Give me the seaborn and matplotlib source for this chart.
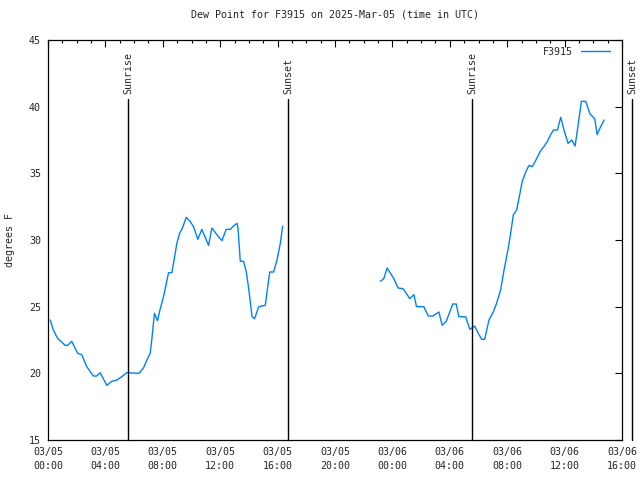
import numpy as np
import pandas as pd
import matplotlib
matplotlib.use("Agg")
import matplotlib.pyplot as plt
import matplotlib.dates as mdates
from matplotlib.lines import Line2D
import seaborn as sns

# ---- data (hours after 2025-03-05 00:00 UTC, dew point in F) ----
seg1_hours = [0.16, 0.37, 0.68, 0.9, 1.19, 1.37, 1.65, 2.07, 2.35, 2.7, 3.16, 3.4, 3.63,
              4.1, 4.44, 4.8, 5.14, 5.49, 6.35, 6.65, 6.89, 7.12, 7.23, 7.42, 7.63, 7.8,
              8.05, 8.2, 8.4, 8.63, 8.8, 8.98, 9.17, 9.37, 9.63, 9.9, 10.14, 10.44, 10.72,
              11.19, 11.42, 11.77, 12.12, 12.42, 12.7, 12.93, 13.17, 13.24, 13.4, 13.63,
              13.82, 13.98, 14.22, 14.4, 14.68, 15.14, 15.45, 15.72, 15.96, 16.19, 16.35]
seg1_dew = [24.0, 23.25, 22.6, 22.4, 22.1, 22.1, 22.4, 21.5, 21.4, 20.5, 19.8, 19.8, 20.05,
            19.1, 19.4, 19.5, 19.75, 20.05, 20.0, 20.4, 21.0, 21.5, 22.5, 24.5, 23.95, 24.75,
            25.75, 26.5, 27.55, 27.55, 28.6, 29.75, 30.5, 30.9, 31.7, 31.4, 31.0, 30.05, 30.8,
            29.6, 30.9, 30.4, 29.95, 30.8, 30.8, 31.05, 31.25, 30.9, 28.4, 28.4,
            27.6, 26.4, 24.25, 24.1, 25.0, 25.1, 27.6, 27.6, 28.5, 29.75, 31.05]

seg2_hours = [23.17, 23.4, 23.63, 23.87, 24.1, 24.4, 24.73, 25.03, 25.2, 25.5, 25.68, 26.19,
              26.5, 26.82, 27.24, 27.47, 27.75, 28.21, 28.45, 28.63, 29.1, 29.4, 29.73,
              29.96, 30.22, 30.43, 30.73, 31.03, 31.26, 31.54, 31.78, 32.05, 32.24, 32.43,
              32.66, 32.89, 33.05, 33.29, 33.52, 33.75, 34.05, 34.33, 34.56, 34.8, 35.03,
              35.22, 35.5, 35.73, 35.96, 36.24, 36.5, 36.73, 36.96, 37.17, 37.47, 37.77,
              38.1, 38.27, 38.4, 38.75]
seg2_dew = [26.9, 27.1, 27.9, 27.5, 27.1, 26.4, 26.35, 25.9, 25.6, 25.9, 25.0, 25.0,
            24.3, 24.3, 24.6, 23.6, 23.9, 25.2, 25.2, 24.25, 24.25, 23.3, 23.55,
            23.05, 22.55, 22.55, 24.0, 24.6, 25.25, 26.25, 27.75, 29.25, 30.5, 31.9,
            32.25, 33.5, 34.4, 35.1, 35.6, 35.5, 36.1, 36.7, 37.0, 37.4, 37.9,
            38.25, 38.25, 39.2, 38.25, 37.25, 37.5, 37.05, 38.75, 40.4, 40.4, 39.45,
            39.1, 37.9, 38.25, 39.0]

event_hours = [5.58, 16.73, 29.56, 40.7]
event_labels = ["Sunrise", "Sunset", "Sunrise", "Sunset"]

station = "F3915"
title = "Dew Point for F3915 on 2025-Mar-05 (time in UTC)"
ylabel = "degrees F"
base = pd.Timestamp("2025-03-05 00:00")

df = pd.DataFrame({
    "time": base + pd.to_timedelta(seg1_hours + seg2_hours, unit="h"),
    "dew": seg1_dew + seg2_dew,
    "segment": [1] * len(seg1_hours) + [2] * len(seg2_hours),
    "station": station,
})

sns.set_style("white")
plt.rcParams["font.family"] = ["DejaVu Sans Mono", "DejaVu Sans"]
plt.rcParams["font.size"] = 7

color = "#0080ff"
fig = plt.figure(figsize=(6.4, 4.8), dpi=100)
ax = fig.add_axes([48 / 640, 40 / 480, 574 / 640, 400 / 480])

sns.lineplot(data=df, x="time", y="dew", units="segment", estimator=None,
             hue="station", palette=[color], linewidth=1.0, ax=ax, legend=False)

ax.set_xlim(base, base + pd.Timedelta(hours=40))
ax.set_ylim(15, 45)
ax.set_yticks(np.arange(15, 46, 5))

ax.xaxis.set_major_locator(mdates.HourLocator(byhour=range(0, 24, 4)))
ax.xaxis.set_minor_locator(mdates.HourLocator())
ax.xaxis.set_major_formatter(mdates.DateFormatter("%m/%d\n%H:%M"))

ax.tick_params(which="both", direction="in", top=True, right=True, color="black",
               labelsize=7.2, width=0.8)
ax.tick_params(which="major", length=5, pad=5)
ax.tick_params(which="minor", length=2.5)
for lab in ax.get_xticklabels():
    lab.set_linespacing(1.55)

for s in ax.spines.values():
    s.set_color("black")
    s.set_linewidth(0.9)

ax.set_xlabel("")
ax.set_ylabel(ylabel, fontsize=7.2, labelpad=10)
ax.set_title(title, fontsize=7.2, pad=16)

for h, lab in zip(event_hours, event_labels):
    t = base + pd.Timedelta(hours=h)
    ax.plot([t, t], [15, 40.6], color="black", linewidth=1.0, clip_on=False)
    ax.text(t, 40.95, lab, rotation=90, ha="center", va="bottom", fontsize=7.2,
            clip_on=False)

handle = Line2D([], [], color=color, linewidth=1.0)
ax.legend([handle], [station], loc="upper right", bbox_to_anchor=(0.988, 0.995),
          frameon=False, markerfirst=False, handlelength=2.9, handletextpad=0.8,
          borderpad=0, fontsize=7.2)

fig.savefig("out.png", dpi=100)
